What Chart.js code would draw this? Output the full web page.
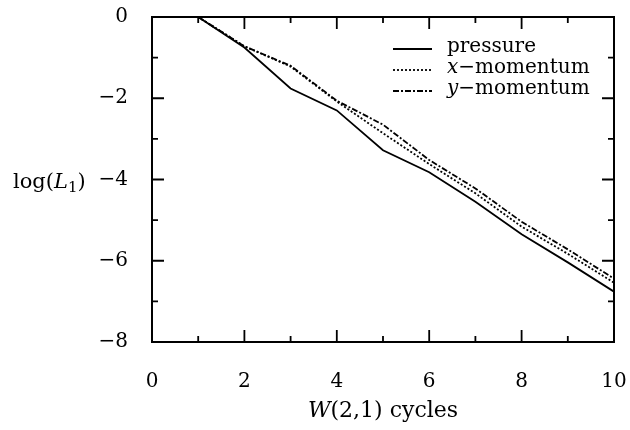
<!DOCTYPE html>
<html>
<head>
<meta charset="utf-8">
<script src="https://cdn.jsdelivr.net/npm/chart.js@4"></script>
<style>
  body { margin: 0; background: #fff; }
  #wrap { width: 630px; height: 430px; }
</style>
</head>
<body>
<div id="wrap"><canvas id="grafico"></canvas></div>
<script>
// datos
const cycles = [1, 2, 3, 4, 5, 6, 7, 8, 9, 10];
const pressure = [0, -0.75, -1.76, -2.3, -3.28, -3.82, -4.55, -5.35, -6.04, -6.76];
const xMomentum = [0, -0.72, -1.22, -2.08, -2.86, -3.62, -4.34, -5.16, -5.83, -6.54];
const yMomentum = [0, -0.72, -1.2, -2.06, -2.65, -3.52, -4.22, -5.04, -5.72, -6.44];
const xTicks = [0, 2, 4, 6, 8, 10];
const yTicks = [-8, -6, -4, -2, 0];

const FONT = '"DejaVu Serif", serif';
const toPoints = arr => cycles.map((c, i) => ({ x: c, y: arr[i] }));
const minus = v => (v < 0 ? '\u2212' + Math.abs(v) : String(v));

// texto con partes en cursiva
function drawRich(ctx, parts, x, y) {
  parts.forEach(p => {
    ctx.font = (p.it ? 'italic ' : '') + (p.size || 20) + 'px ' + FONT;
    ctx.fillText(p.t, x, y + (p.dy || 0));
    x += ctx.measureText(p.t).width;
  });
}
function richWidth(ctx, parts) {
  let w = 0;
  parts.forEach(p => {
    ctx.font = (p.it ? 'italic ' : '') + (p.size || 20) + 'px ' + FONT;
    w += ctx.measureText(p.t).width;
  });
  return w;
}

// caja, marcas hacia dentro, titulos y leyenda
const marcos = {
  id: 'marcos',
  afterDraw(chart) {
    const { ctx, chartArea: a, scales } = chart;
    const xs = scales.x, ys = scales.y;
    ctx.save();
    ctx.strokeStyle = '#000';
    ctx.lineWidth = 2;
    ctx.strokeRect(a.left, a.top, a.right - a.left, a.bottom - a.top);

    ctx.lineWidth = 1.8;
    ctx.beginPath();
    for (let v = xs.min; v <= xs.max; v++) {
      const px = xs.getPixelForValue(v);
      const len = v % 2 === 0 ? 12 : 6;
      ctx.moveTo(px, a.bottom); ctx.lineTo(px, a.bottom - len);
      ctx.moveTo(px, a.top); ctx.lineTo(px, a.top + len);
    }
    for (let v = ys.min; v <= ys.max; v++) {
      const py = ys.getPixelForValue(v);
      const len = v % 2 === 0 ? 12 : 6;
      ctx.moveTo(a.left, py); ctx.lineTo(a.left + len, py);
      ctx.moveTo(a.right, py); ctx.lineTo(a.right - len, py);
    }
    ctx.stroke();

    ctx.fillStyle = '#000';
    ctx.textBaseline = 'middle';
    ctx.textAlign = 'left';

    // log(L1)
    const ty = ys.getPixelForValue(-4) + 3;
    drawRich(ctx, [
      { t: 'log(', size: 21 }, { t: 'L', it: true, size: 21 },
      { t: '1', size: 15, dy: 6 }, { t: ')', size: 21 }
    ], 13, ty);

    // W(2,1) cycles
    const xt = [{ t: 'W', it: true, size: 22 }, { t: '(2,1) cycles', size: 22 }];
    const cx = (a.left + a.right) / 2;
    drawRich(ctx, xt, cx - richWidth(ctx, xt) / 2, 411);

    // leyenda
    const rows = [
      { ds: 0, parts: [{ t: 'pressure' }] },
      { ds: 1, parts: [{ t: 'x', it: true }, { t: '\u2212momentum' }] },
      { ds: 2, parts: [{ t: 'y', it: true }, { t: '\u2212momentum' }] }
    ];
    rows.forEach((r, i) => {
      const yy = 49 + i * 21;
      const d = chart.data.datasets[r.ds];
      ctx.beginPath();
      ctx.lineWidth = d.borderWidth;
      ctx.setLineDash(d.borderDash || []);
      ctx.moveTo(393, yy); ctx.lineTo(432, yy);
      ctx.stroke();
      ctx.setLineDash([]);
      drawRich(ctx, r.parts, 447, yy - 2);
    });
    ctx.restore();
  }
};

new Chart(document.getElementById('grafico'), {
  type: 'line',
  data: {
    datasets: [
      {
        label: 'pressure',
        data: toPoints(pressure),
        borderColor: '#000',
        borderWidth: 1.8,
        pointRadius: 0,
        tension: 0
      },
      {
        label: 'x-momentum',
        data: toPoints(xMomentum),
        borderColor: '#000',
        borderWidth: 1.8,
        borderDash: [2, 2],
        pointRadius: 0,
        tension: 0
      },
      {
        label: 'y-momentum',
        data: toPoints(yMomentum),
        borderColor: '#000',
        borderWidth: 1.8,
        borderDash: [6, 2, 2, 2],
        pointRadius: 0,
        tension: 0
      }
    ]
  },
  options: {
    responsive: true,
    maintainAspectRatio: false,
    animation: false,
    layout: { padding: { top: 17, right: 16, left: 0, bottom: 0 } },
    plugins: {
      legend: { display: false },
      tooltip: { enabled: false }
    },
    scales: {
      x: {
        type: 'linear',
        min: 0,
        max: 10,
        grid: { display: false },
        border: { display: false },
        afterBuildTicks: s => { s.ticks = xTicks.map(v => ({ value: v })); },
        afterFit: s => { s.height = 88; s.paddingLeft = 0; s.paddingRight = 0; },
        ticks: {
          color: '#000',
          padding: 20,
          maxRotation: 0,
          font: { family: FONT, size: 20 },
          callback: v => minus(v)
        }
      },
      y: {
        min: -8,
        max: 0,
        grid: { display: false },
        border: { display: false },
        afterBuildTicks: s => { s.ticks = yTicks.map(v => ({ value: v })); },
        afterFit: s => { s.width = 152; s.paddingTop = 0; s.paddingBottom = 0; },
        ticks: {
          color: '#000',
          padding: 16,
          font: { family: FONT, size: 20 },
          callback: v => minus(v)
        }
      }
    }
  },
  plugins: [marcos]
});
</script>
</body>
</html>
